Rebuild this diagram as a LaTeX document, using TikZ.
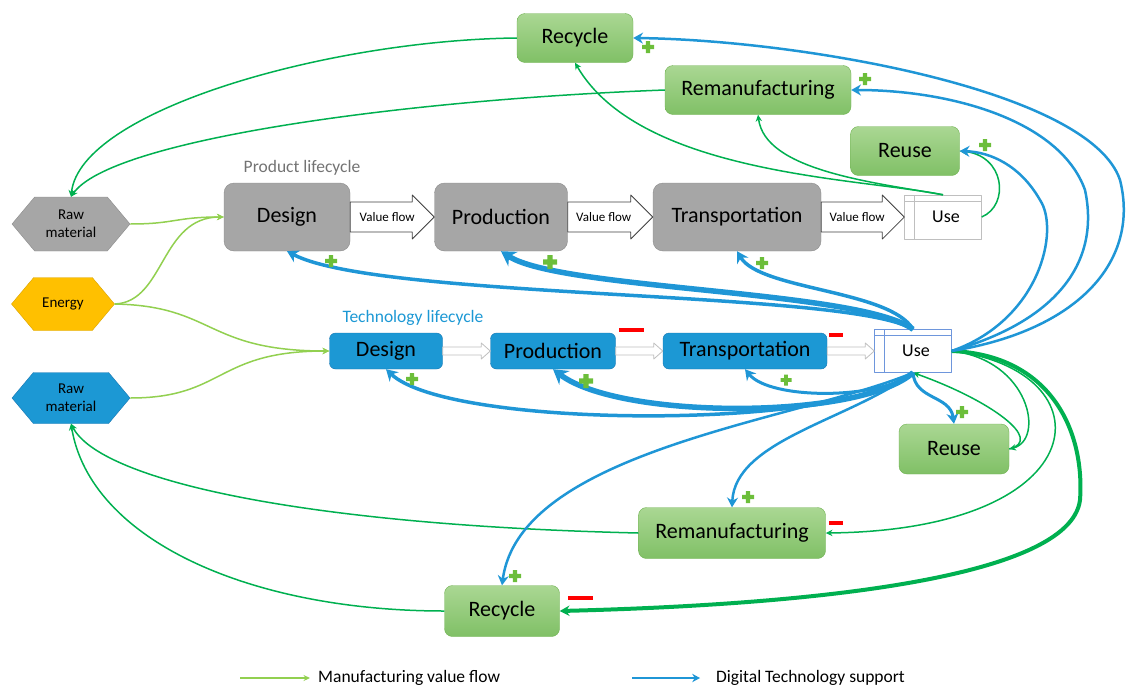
\documentclass[tikz,border=0pt]{standalone}
\usepackage{fontspec}
\setmainfont{Carlito}
\usetikzlibrary{arrows.meta,shapes.symbols,calc}

\definecolor{boxgray}{RGB}{166,166,166}
\definecolor{edgegray}{RGB}{140,140,140}
\definecolor{techblue}{RGB}{28,152,212}
\definecolor{techedge}{RGB}{24,118,178}
\definecolor{linkblue}{RGB}{31,150,214}
\definecolor{flowgreen}{RGB}{146,208,80}
\definecolor{loopgreen}{RGB}{0,176,80}
\definecolor{plusgreen}{RGB}{108,190,58}
\definecolor{loopgreenlight}{RGB}{170,215,147}
\definecolor{loopgreendark}{RGB}{128,192,102}
\definecolor{loopedge}{RGB}{112,178,82}
\definecolor{energyfill}{RGB}{255,192,0}
\definecolor{useedge}{RGB}{110,150,220}

% plus / minus marks at a point, half size given
\newcommand{\plusmark}[2]{\fill[plusgreen] ($(#1)+(-#2,-0.36*#2)$) rectangle ($(#1)+(#2,0.36*#2)$) ($(#1)+(-0.36*#2,-#2)$) rectangle ($(#1)+(0.36*#2,#2)$);}
\newcommand{\minusmark}[2]{\fill[red] ($(#1)+(-#2,-2.3)$) rectangle ($(#1)+(#2,2.3)$);}
% block arrow between two nodes: style, from, to, shaft half, head half, head length
\newcommand{\blockarrow}[6]{\draw[#1] ([yshift=#4pt]#2.east) -- ([yshift=#4pt,xshift=-#6pt]#3.west) -- ([yshift=#5pt,xshift=-#6pt]#3.west) -- (#3.west) -- ([yshift=-#5pt,xshift=-#6pt]#3.west) -- ([yshift=-#4pt,xshift=-#6pt]#3.west) -- ([yshift=-#4pt]#2.east) -- cycle;}

\begin{document}
\begin{tikzpicture}[x=1pt,y=-1pt,line join=round,
  every node/.style={inner sep=0pt},
  bigtext/.style={font=\fontsize{22}{26}\selectfont},
  prodbox/.style={bigtext,draw=edgegray,fill=boxgray,rounded corners=10pt,minimum height=68pt},
  techbox/.style={bigtext,draw=techedge,fill=techblue,rounded corners=6pt,minimum height=36pt},
  loopbox/.style={bigtext,draw=loopedge,top color=loopgreenlight,bottom color=loopgreendark,rounded corners=8pt,minimum height=50pt},
  usebox/.style={draw,fill=white,minimum width=77pt,minimum height=44pt,font=\fontsize{18}{22}\selectfont},
  source/.style={signal,signal to=east and west,signal pointer angle=100,minimum width=118pt,minimum height=54pt,align=center,font=\fontsize{15}{18}\selectfont},
  cyclelabel/.style={font=\fontsize{17.5}{20}\selectfont},
  feed/.style={draw=flowgreen,line width=1.5pt,-{Stealth[length=5pt 1.2,width=4pt 1.6]}},
  mfg/.style={draw=loopgreen,line width=#1,-{Stealth[length=5pt 1.2,width=4pt 1.6]}},
  mfg/.default=1.5pt,
  dts/.style={draw=linkblue,line width=#1,-{Stealth[length=6pt 1.5,width=6pt 2]}},
  dts/.default=2.5pt]
\useasboundingbox (0,0) rectangle (1129,688);

% sources
\node[source,fill=boxgray,draw=edgegray] (rawP) at (71,224) {Raw\\material};
\node[source,fill=energyfill,draw=energyfill!85!black,minimum width=103pt,minimum height=53pt] (energy) at (63,304) {Energy};
\node[source,fill=techblue,draw=techedge,minimum height=51pt] (rawT) at (71,398) {Raw\\material};

% product lifecycle
\node[cyclelabel,text=black!55] (pLabel) at (302,168) {Product lifecycle};
\node[prodbox,minimum width=126pt] (pDesign) at (287,217) {Design};
\node[prodbox,minimum width=133pt] (pProd) at (501,217) {Production};
\node[prodbox,minimum width=168pt] (pTrans) at (737,217) {Transportation};
\node[usebox,draw=black!25] (pUse) at (943,217) {\hspace*{6pt}Use};
\draw[black!25] ([xshift=10pt]pUse.north west) -- ([xshift=10pt]pUse.south west)
  ([yshift=-6pt]pUse.north west) -- ([yshift=-6pt]pUse.north east);

% technology lifecycle
\node[cyclelabel,text=techblue] (tLabel) at (413,318) {Technology lifecycle};
\node[techbox,minimum width=113pt] (tDesign) at (386,351) {Design};
\node[techbox,minimum width=125pt] (tProd) at (553,351) {Production};
\node[techbox,minimum width=164pt] (tTrans) at (745,351) {Transportation};
\node[usebox,draw=useedge,minimum height=43pt] (tUse) at (913,351) {\hspace*{6pt}Use};
\draw[useedge] ([xshift=10pt]tUse.north west) -- ([xshift=10pt]tUse.south west)
  ([yshift=-6pt]tUse.north west) -- ([yshift=-6pt]tUse.north east);

% end of life
\node[loopbox,minimum width=116pt,minimum height=49pt] (recTop) at (575,38) {Recycle};
\node[loopbox,minimum width=186pt,minimum height=49pt] (remTop) at (758,90) {Remanufacturing};
\node[loopbox,minimum width=109pt,minimum height=49pt] (reuseTop) at (905,151) {Reuse};
\node[loopbox,minimum width=110pt] (reuseBot) at (954,449) {Reuse};
\node[loopbox,minimum width=187pt,minimum height=51pt] (remBot) at (732,533) {Remanufacturing};
\node[loopbox,minimum width=115pt,minimum height=51pt] (recBot) at (502,611) {Recycle};

% value flows
\blockarrow{draw=black!75,fill=white,line width=0.8pt}{pDesign}{pProd}{15}{22}{22}
\blockarrow{draw=black!75,fill=white,line width=0.8pt}{pProd}{pTrans}{15}{22}{22}
\blockarrow{draw=black!75,fill=white,line width=0.8pt}{pTrans}{pUse}{15}{22}{22}
\node[font=\fontsize{13}{15}\selectfont] (vf1) at ([xshift=37pt]pDesign.east) {Value flow};
\node[font=\fontsize{13}{15}\selectfont] (vf2) at ([xshift=36pt]pProd.east) {Value flow};
\node[font=\fontsize{13}{15}\selectfont] (vf3) at ([xshift=36pt]pTrans.east) {Value flow};
\blockarrow{draw=black!25,fill=white,line width=0.8pt}{tDesign}{tProd}{4}{8}{9}
\blockarrow{draw=black!25,fill=white,line width=0.8pt}{tProd}{tTrans}{4}{8}{9}
\blockarrow{draw=black!25,fill=white,line width=0.8pt}{tTrans}{tUse}{4}{8}{9}

% inputs
\draw[feed] (rawP.east) .. controls (175,224) and (175,217) .. (pDesign.west);
\draw[feed] (energy.east) .. controls (165,302) and (160,217) .. (pDesign.west);
\draw[feed] (energy.east) .. controls (215,306) and (205,351) .. (tDesign.west);
\draw[feed] (rawT.east) .. controls (225,398) and (215,351) .. (tDesign.west);

% manufacturing loops, product
\draw[mfg] (recTop.west) .. controls (330,40) and (80,110) .. (rawP.north);
\draw[mfg] (remTop.west) .. controls (400,100) and (110,140) .. (rawP.north);
\draw[mfg] (pUse.north) .. controls (860,178) and (640,175) .. (recTop.south);
\draw[mfg] (pUse.north) .. controls (870,182) and (765,170) .. (remTop.south);
\draw[mfg] (pUse.east) .. controls (1010,205) and (1005,155) .. (reuseTop.east);

% manufacturing loops, technology
\draw[mfg=4pt] (tUse.east) .. controls (1050,355) and (1085,430) .. (1080,500)
  .. controls (1070,580) and (800,605) .. (recBot.east);
\draw[mfg] (tUse.east) .. controls (1110,370) and (1100,530) .. (remBot.east);
\draw[mfg] (tUse.east) .. controls (1030,360) and (1045,440) .. (reuseBot.east);
\draw[mfg] (reuseBot.east) .. controls (1045,440) and (990,400) .. (tUse.south);
\draw[mfg] (remBot.west) .. controls (300,525) and (100,480) .. (rawT.south);
\draw[mfg] (recBot.west) .. controls (250,611) and (90,540) .. (rawT.south);

% digital technology support
\draw[dts=3.5pt] (tUse.north) .. controls (850,290) and (380,300) .. (pDesign.south);
\draw[dts=5.5pt] (tUse.north) .. controls (860,290) and (560,290) .. (pProd.south);
\draw[dts=3.5pt] (tUse.north) .. controls (890,290) and (760,290) .. (pTrans.south);
\draw[dts=3.5pt] (tUse.south) .. controls (850,430) and (450,430) .. (tDesign.south);
\draw[dts=5.5pt] (tUse.south) .. controls (860,420) and (620,420) .. (tProd.south);
\draw[dts=3pt] (tUse.south) .. controls (880,400) and (770,400) .. (tTrans.south);
\draw[dts=3pt] (tUse.south) .. controls (915,400) and (950,395) .. (reuseBot.north);
\draw[dts=2.5pt] (tUse.south) .. controls (850,420) and (735,440) .. (remBot.north);
\draw[dts=2.5pt] (tUse.south) .. controls (800,420) and (520,450) .. (recBot.north);
\draw[dts] (tUse.east) .. controls (1080,330) and (1140,260) .. (1120,180)
  .. controls (1090,90) and (800,40) .. (recTop.east);
\draw[dts] (tUse.east) .. controls (1060,320) and (1100,260) .. (1085,190)
  .. controls (1060,120) and (950,90) .. (remTop.east);
\draw[dts] (tUse.east) .. controls (1040,320) and (1060,230) .. (1040,200)
  .. controls (1020,165) and (990,152) .. (reuseTop.east);

% effects
\plusmark{648,47}{6} \plusmark{865,79}{6} \plusmark{985,145}{6}
\plusmark{331,261}{6} \plusmark{550,262}{7} \plusmark{762,263}{6}
\plusmark{412,379}{6} \plusmark{586,381}{7} \plusmark{786,380}{5.5}
\plusmark{962,412}{6} \plusmark{748,497}{6} \plusmark{515,576}{6}
\minusmark{631,330}{12.5} \minusmark{836,335}{7}
\minusmark{836,523}{7} \minusmark{580,598}{12.5}

% legend
\coordinate (g1) at (240,678); \coordinate (g2) at (310,678);
\draw[feed,line width=1.2pt] (g1) -- (g2);
\node[cyclelabel,anchor=west] (gText) at (318,678) {Manufacturing value flow};
\coordinate (b1) at (632,678); \coordinate (b2) at (700,678);
\draw[dts=1.2pt] (b1) -- (b2);
\node[cyclelabel,anchor=west] (bText) at (716,678) {Digital Technology support};
\end{tikzpicture}
\end{document}
